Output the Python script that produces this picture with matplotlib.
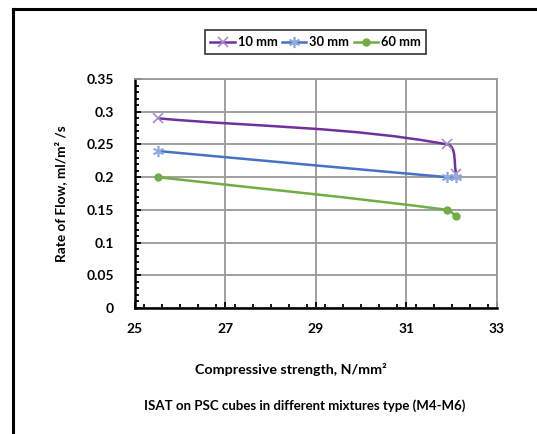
import numpy as np
import matplotlib
matplotlib.use("Agg")
import matplotlib.pyplot as plt
from matplotlib.path import Path
from matplotlib.patches import PathPatch
from matplotlib.lines import Line2D
from matplotlib.ticker import MultipleLocator, FuncFormatter

plt.rcParams["font.family"] = ["Lato", "DejaVu Sans"]

# data
strength = [25.5, 31.9, 32.1]
flow_10mm = [0.29, 0.25, 0.205]
flow_30mm = [0.24, 0.20, 0.20]
flow_60mm = [0.20, 0.15, 0.14]
series_names = ["10 mm", "30 mm", "60 mm"]
x_ticks = [25, 27, 29, 31, 33]
y_ticks = [0, 0.05, 0.1, 0.15, 0.2, 0.25, 0.3, 0.35]


def smooth_path(ax, xs, ys):
    # Excel-like smoothed line: cubic bezier through the points, built in pixel space
    pts = ax.transData.transform(np.column_stack([xs, ys]))
    n = len(pts)
    tang = []
    for i in range(n):
        a = pts[max(i - 1, 0)]
        b = pts[min(i + 1, n - 1)]
        d = b - a
        tang.append(d / np.hypot(*d))
    verts = [pts[0]]
    codes = [Path.MOVETO]
    for i in range(n - 1):
        seg = np.hypot(*(pts[i + 1] - pts[i])) / 3
        verts += [pts[i] + tang[i] * seg, pts[i + 1] - tang[i + 1] * seg, pts[i + 1]]
        codes += [Path.CURVE4] * 3
    verts = ax.transData.inverted().transform(np.array(verts))
    return Path(verts, codes)


fig = plt.figure(figsize=(5.37, 4.34), dpi=100)
ax = fig.add_axes([0.2514, 0.2903, 0.6741, 0.5276])
ax.set_xlim(25, 33)
ax.set_ylim(0, 0.35)

styles = [
    dict(color="#7030A0", marker="x", mec="#A98BCB", ms=7, mew=1.2),
    dict(color="#4472C4", marker=(6, 2, 0), mec="#8FAADC", ms=8, mew=1.2),
    dict(color="#70AD47", marker="o", mec="#70AD47", mfc="#70AD47", ms=5, mew=1),
]
handles = []
for ys, st, name in zip([flow_10mm, flow_30mm, flow_60mm], styles, series_names):
    p = smooth_path(ax, strength, ys)
    ax.add_patch(PathPatch(p, fill=False, edgecolor=st["color"], lw=1.8, zorder=3))
    ax.plot(strength, ys, ls="none", marker=st["marker"], mec=st["mec"],
            mfc=st.get("mfc", "none"), ms=st["ms"], mew=st["mew"], zorder=4)
    handles.append(Line2D([], [], color=st["color"], lw=1.8, marker=st["marker"],
                          mec=st["mec"], mfc=st.get("mfc", "none"), ms=st["ms"],
                          mew=st["mew"], label=name))

ax.set_xticks(x_ticks)
ax.set_yticks(y_ticks)
ax.xaxis.set_minor_locator(MultipleLocator(0.4))
ax.yaxis.set_minor_locator(MultipleLocator(0.01))
ax.yaxis.set_major_formatter(FuncFormatter(lambda v, _: "%g" % v))
ax.grid(True, which="major", color="#999999", lw=1.3)
ax.set_axisbelow(True)
ax.tick_params(which="both", direction="in", labelsize=10)
ax.tick_params(which="major", length=4, width=1.3)
ax.tick_params(which="minor", length=3, width=1.3)
ax.tick_params(axis="x", which="major", pad=11, top=False)
ax.tick_params(axis="y", which="major", pad=15, right=False)
ax.tick_params(which="minor", top=False, right=False)
for lab in ax.get_xticklabels() + ax.get_yticklabels():
    lab.set_fontweight("bold")
for s in ["left", "bottom"]:
    ax.spines[s].set_linewidth(1.8)
    ax.spines[s].set_color("black")
for s in ["top", "right"]:
    ax.spines[s].set_linewidth(1.3)
    ax.spines[s].set_color("#999999")

ax.set_ylabel("Rate of Flow, ml/m² /s", fontsize=9.8, fontweight="bold", labelpad=14)
fig.text(0.541, 0.148, "Compressive strength, N/mm²", ha="center", va="center",
         fontsize=10.3, fontweight="bold")
fig.text(0.568, 0.065, "ISAT on PSC cubes in different mixtures type (M4-M6)",
         ha="center", va="center", fontsize=9.5, fontweight="bold")

leg = fig.legend(handles=handles, loc="center", bbox_to_anchor=(0.5875, 0.903),
                 ncol=3, fancybox=False, edgecolor="black", handlelength=1.9,
                 columnspacing=0.35, handletextpad=0.2, borderpad=0.45,
                 prop=dict(weight="bold", size=9.3))
leg.get_frame().set_linewidth(1.2)

# outer chart frame (top and left edges visible)
fig.add_artist(Line2D([0.024, 1.0], [0.979, 0.979], color="black", lw=2.2))
fig.add_artist(Line2D([0.024, 0.024], [0.0, 0.979], color="black", lw=2.2))

fig.savefig("out.png", dpi=100)
